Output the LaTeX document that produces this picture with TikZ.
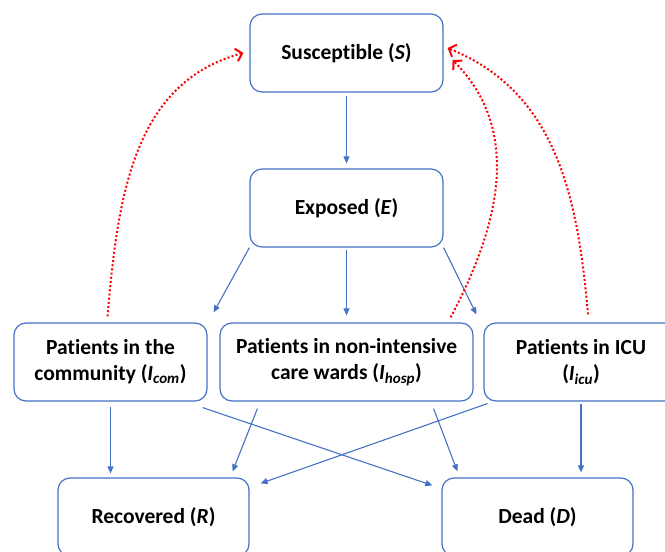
\documentclass[tikz,border=0pt]{standalone}
\usepackage{fontspec}
\setmainfont[Ligatures=NoCommon]{Carlito}
\usepackage{xcolor}
\usepackage{tikz}
\usetikzlibrary{arrows.meta}
\definecolor{boxblue}{HTML}{4472C4}
\tikzset{
    tnode/.style = {align=center, inner sep=0pt, text centered},
    comp_node/.style = {tnode, rectangle, rounded corners=12pt, draw=boxblue, line width=1.2pt, minimum height=78pt, font=\fontsize{21.5}{26}\selectfont\bfseries},
    flow_edge/.style = {draw=boxblue, line width=1.1pt, -{Triangle[length=7pt,width=6pt]}},
    return_edge/.style = {draw=red, line width=2pt, dash pattern=on 2pt off 2.2pt, -{Straight Barb[length=6pt,width=13pt]}}
}

\begin{document}
\begin{tikzpicture}
            [x=1pt, y=1pt]

            \useasboundingbox (0,0) rectangle (665,552);

            \node [comp_node, minimum width=193pt] (S) at (346.5,499) {Susceptible (\textit{S})};
            \node [comp_node, minimum width=193pt] (E) at (346.5,344) {Exposed (\textit{E})};
            \node [comp_node, minimum width=193pt] (Icom) at (110.5,190) {Patients in the\\community (\textit{I}\textsubscript{\textit{com}})};
            \node [comp_node, minimum width=253pt] (Ihosp) at (346.5,190) {Patients in non-intensive\\care wards (\textit{I}\textsubscript{\textit{hosp}})};
            \node [comp_node, minimum width=194pt] (Iicu) at (581,190) {Patients in ICU\\(\textit{I}\textsubscript{\textit{icu}})};
            \node [comp_node, minimum width=191pt] (R) at (153.5,35) {Recovered (\textit{R})};
            \node [comp_node, minimum width=191pt] (D) at (537.5,35) {Dead (\textit{D})};

            \draw [flow_edge, shorten <=3pt, shorten >=5pt] (S.south) -- (E.north);
            \draw [flow_edge] (E.south west) -- ([shift={(6,10)}]Icom.north east);
            \draw [flow_edge, shorten <=2pt, shorten >=7pt] (E.south) -- (Ihosp.north);
            \draw [flow_edge] (E.south east) -- ([shift={(-7,8)}]Iicu.north west);

            \draw [flow_edge, shorten <=5pt, shorten >=4pt] (Icom.south) -- (Icom.south |- R.north);
            \draw [flow_edge] ([shift={(-5,-6)}]Icom.south east) -- ([shift={(-9,-8)}]D.north west);
            \draw [flow_edge] ([shift={(38,-7)}]Ihosp.south west) -- ([shift={(-17,6)}]R.north east);
            \draw [flow_edge] ([shift={(-40,-7)}]Ihosp.south east) -- ([shift={(16,6)}]D.north west);
            \draw [flow_edge] ([shift={(4,-2)}]Iicu.south west) -- ([shift={(11,-6)}]R.north east);
            \draw [flow_edge, shorten <=2pt, shorten >=5pt] (Iicu.south) -- (Iicu.south |- D.north);

            \draw [return_edge] ([shift={(-3,6)}]Icom.north) to [out=85, in=195] ([xshift=-6]S.west);
            \draw [return_edge] ([shift={(-23,5)}]Ihosp.north east) to [out=62, in=-45] ([shift={(9,-7)}]S.east);
            \draw [return_edge] ([shift={(7,8)}]Iicu.north) to [out=95, in=-22] ([shift={(4,5)}]S.east);
\end{tikzpicture}
\end{document}
